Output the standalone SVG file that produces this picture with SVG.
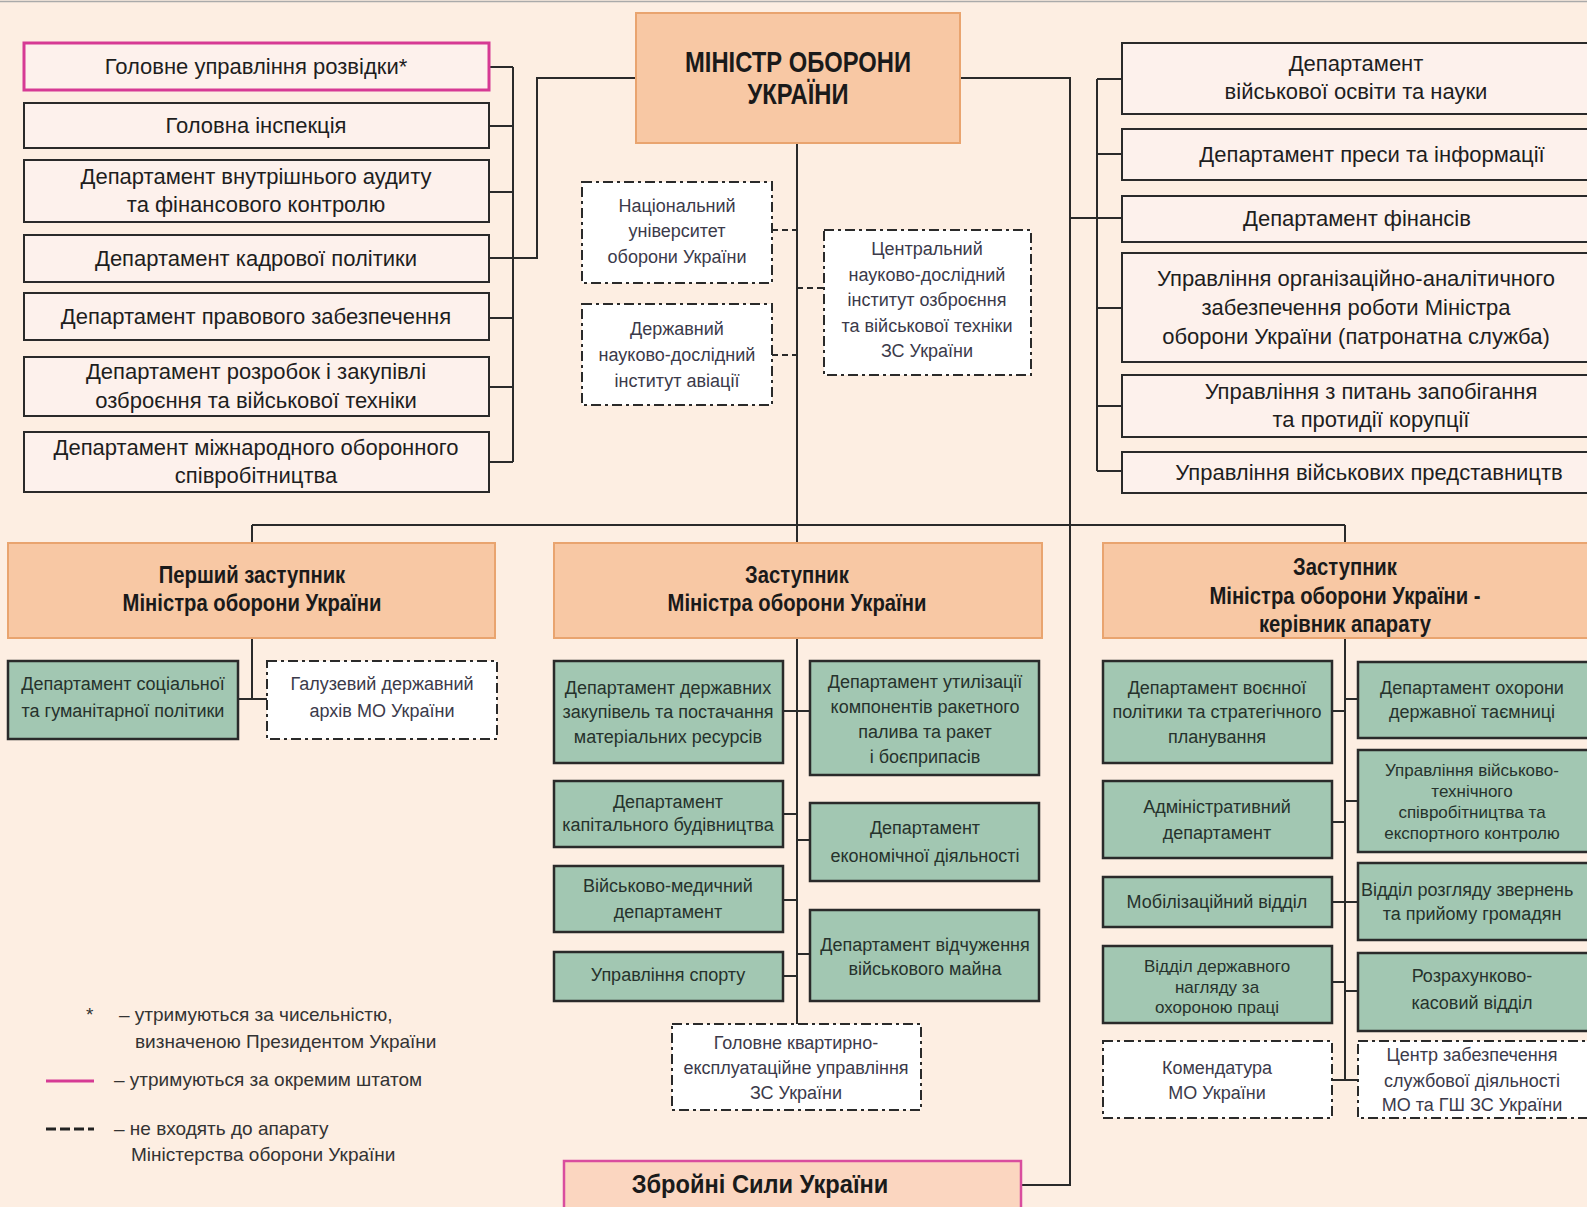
<svg xmlns="http://www.w3.org/2000/svg" width="1587" height="1207" viewBox="0 0 1587 1207">
<style>
.bg{fill:#fdeee2}
.w{fill:#fdf1ec;stroke:#2a2a2a;stroke-width:2}
.pk{fill:#fdf1ec;stroke:#d63a94;stroke-width:3}
.or{fill:#f8c8a4;stroke:#e9a46f;stroke-width:2}
.gr{fill:#a2c7b2;stroke:#2a2a2a;stroke-width:2.5}
.ds{fill:#ffffff;stroke:#2a2a2a;stroke-width:2;stroke-dasharray:10 4 3 4}
.zs{fill:#fbd6c0;stroke:#d94d9e;stroke-width:2.5}
.ln{stroke:#2a2a2a;stroke-width:2;fill:none}
.dl{stroke:#2a2a2a;stroke-width:2;fill:none;stroke-dasharray:6 4}
text{font-family:"Liberation Sans",Arial,sans-serif;text-anchor:middle}
.t{font-size:22px;fill:#1e1e1e}
.g{font-size:18px;fill:#26322c}
.gs{font-size:17px;fill:#26322c}
.d{font-size:18px;fill:#3b3a4a}
.h{font-weight:bold;fill:#1a1a1a}
.lg{font-size:19px;fill:#333;text-anchor:start}
</style>
<rect class="bg" x="0" y="0" width="1587" height="1207"/>
<line x1="0" y1="1.5" x2="1587" y2="1.5" stroke="#aaa" stroke-width="1.5"/>

<g id="connectors">
<path class="ln" d="M489 67H513M489 126H513M489 192H513M489 258H513M489 318H513M489 387H513M489 462H513M513 67V462M513 258H537V78H636"/>
<path class="ln" d="M960 78H1070V1185H1021M1070 218H1097M1097 79V471M1097 79H1122M1097 154H1122M1097 218H1122M1097 308H1122M1097 406H1122M1097 471H1122"/>
<path class="ln" d="M797 143V543M252 525H1345M252 525V543M1345 525V543"/>
<path class="dl" d="M772 230H797M772 355H797M797 288H824"/>
<path class="ln" d="M252 638V699M238 699H267"/>
<path class="ln" d="M797 638V1024M783 711H810M783 814H797M783 900H797M783 976H797M797 840H810M797 954H810"/>
<path class="ln" d="M1345 638V1080M1332 711H1345M1332 822H1345M1332 902H1358M1332 982H1345M1332 1080H1358M1345 699H1358M1345 801H1358M1345 991H1358"/>
</g>

<g id="minister">
<rect class="or" x="636" y="13" width="324" height="130"/>
<text class="h" font-size="29" transform="translate(798,72) scale(0.82,1)">МІНІСТР ОБОРОНИ</text>
<text class="h" font-size="29" transform="translate(798,104) scale(0.82,1)">УКРАЇНИ</text>
</g>

<g id="gur"><rect class="pk" x="24" y="43" width="465" height="47"/><text class="t" x="256" y="74">Головне управління розвідки*</text></g>
<g id="insp"><rect class="w" x="24" y="103" width="465" height="45"/><text class="t" x="256" y="133">Головна інспекція</text></g>
<g id="audit"><rect class="w" x="24" y="160" width="465" height="62"/><text class="t" x="256" y="184">Департамент внутрішнього аудиту</text><text class="t" x="256" y="212">та фінансового контролю</text></g>
<g id="kadry"><rect class="w" x="24" y="235" width="465" height="47"/><text class="t" x="256" y="266">Департамент кадрової політики</text></g>
<g id="pravo"><rect class="w" x="24" y="293" width="465" height="47"/><text class="t" x="256" y="324">Департамент правового забезпечення</text></g>
<g id="rozrob"><rect class="w" x="24" y="357" width="465" height="59"/><text class="t" x="256" y="379">Департамент розробок і закупівлі</text><text class="t" x="256" y="408">озброєння та військової техніки</text></g>
<g id="mizhnar"><rect class="w" x="24" y="432" width="465" height="60"/><text class="t" x="256" y="455">Департамент міжнародного оборонного</text><text class="t" x="256" y="483">співробітництва</text></g>

<g id="osvita"><rect class="w" x="1122" y="43" width="480" height="71"/><text class="t" x="1356" y="71">Департамент</text><text class="t" x="1356" y="99">військової освіти та науки</text></g>
<g id="presa"><rect class="w" x="1122" y="129" width="480" height="51"/><text class="t" x="1372" y="162">Департамент преси та інформації</text></g>
<g id="finansy"><rect class="w" x="1122" y="196" width="480" height="46"/><text class="t" x="1357" y="226">Департамент фінансів</text></g>
<g id="patronat"><rect class="w" x="1122" y="253" width="480" height="109"/><text class="t" x="1356" y="286">Управління організаційно-аналітичного</text><text class="t" x="1356" y="315">забезпечення роботи Міністра</text><text class="t" x="1356" y="344">оборони України (патронатна служба)</text></g>
<g id="koruptsia"><rect class="w" x="1122" y="375" width="480" height="62"/><text class="t" x="1371" y="399">Управління з питань запобігання</text><text class="t" x="1371" y="427">та протидії корупції</text></g>
<g id="predst"><rect class="w" x="1122" y="452" width="480" height="41"/><text class="t" x="1369" y="480">Управління військових представництв</text></g>

<g id="nuou"><rect class="ds" x="582" y="182" width="190" height="101"/><text class="d" x="677" y="212">Національний</text><text class="d" x="677" y="237">університет</text><text class="d" x="677" y="263">оборони України</text></g>
<g id="dndia"><rect class="ds" x="582" y="304" width="190" height="101"/><text class="d" x="677" y="335">Державний</text><text class="d" x="677" y="361">науково-дослідний</text><text class="d" x="677" y="387">інститут авіації</text></g>
<g id="cndi"><rect class="ds" x="824" y="230" width="207" height="145"/><text class="d" x="927" y="255">Центральний</text><text class="d" x="927" y="281">науково-дослідний</text><text class="d" x="927" y="306">інститут озброєння</text><text class="d" x="927" y="332">та військової техніки</text><text class="d" x="927" y="357">ЗС України</text></g>

<g id="dep1"><rect class="or" x="8" y="543" width="487" height="95"/><text class="h" font-size="23" transform="translate(252,583) scale(0.88,1)">Перший заступник</text><text class="h" font-size="23" transform="translate(252,611) scale(0.88,1)">Міністра оборони України</text></g>
<g id="dep2"><rect class="or" x="554" y="543" width="488" height="95"/><text class="h" font-size="23" transform="translate(797,583) scale(0.88,1)">Заступник</text><text class="h" font-size="23" transform="translate(797,611) scale(0.88,1)">Міністра оборони України</text></g>
<g id="dep3"><rect class="or" x="1103" y="543" width="490" height="95"/><text class="h" font-size="23" transform="translate(1345,575) scale(0.88,1)">Заступник</text><text class="h" font-size="23" transform="translate(1345,604) scale(0.88,1)">Міністра оборони України -</text><text class="h" font-size="23" transform="translate(1345,632) scale(0.88,1)">керівник апарату</text></g>

<g id="social"><rect class="gr" x="8" y="661" width="230" height="78"/><text class="g" x="123" y="690">Департамент соціальної</text><text class="g" x="123" y="717">та гуманітарної політики</text></g>
<g id="arkhiv"><rect class="ds" x="267" y="661" width="230" height="78"/><text class="d" x="382" y="690">Галузевий державний</text><text class="d" x="382" y="717">архів МО України</text></g>

<g id="zakup"><rect class="gr" x="554" y="661" width="229" height="102"/><text class="g" x="668" y="694">Департамент державних</text><text class="g" x="668" y="718">закупівель та постачання</text><text class="g" x="668" y="743">матеріальних ресурсів</text></g>
<g id="kapbud"><rect class="gr" x="554" y="781" width="229" height="66"/><text class="g" x="668" y="808">Департамент</text><text class="g" x="668" y="831">капітального будівництва</text></g>
<g id="medych"><rect class="gr" x="554" y="866" width="229" height="66"/><text class="g" x="668" y="892">Військово-медичний</text><text class="g" x="668" y="918">департамент</text></g>
<g id="sport"><rect class="gr" x="554" y="952" width="229" height="49"/><text class="g" x="668" y="981">Управління спорту</text></g>
<g id="utyl"><rect class="gr" x="810" y="661" width="229" height="114"/><text class="g" x="925" y="688">Департамент утилізації</text><text class="g" x="925" y="713">компонентів ракетного</text><text class="g" x="925" y="738">палива та ракет</text><text class="g" x="925" y="763">і боєприпасів</text></g>
<g id="ekon"><rect class="gr" x="810" y="803" width="229" height="78"/><text class="g" x="925" y="834">Департамент</text><text class="g" x="925" y="862">економічної діяльності</text></g>
<g id="vidch"><rect class="gr" x="810" y="910" width="229" height="91"/><text class="g" x="925" y="951">Департамент відчуження</text><text class="g" x="925" y="975">військового майна</text></g>
<g id="gkeu"><rect class="ds" x="672" y="1024" width="249" height="86"/><text class="d" x="796" y="1049">Головне квартирно-</text><text class="d" x="796" y="1074">експлуатаційне управління</text><text class="d" x="796" y="1099">ЗС України</text></g>

<g id="voen"><rect class="gr" x="1103" y="661" width="229" height="102"/><text class="g" x="1217" y="694">Департамент воєнної</text><text class="g" x="1217" y="718">політики та стратегічного</text><text class="g" x="1217" y="743">планування</text></g>
<g id="admin"><rect class="gr" x="1103" y="781" width="229" height="77"/><text class="g" x="1217" y="813">Адміністративний</text><text class="g" x="1217" y="839">департамент</text></g>
<g id="mob"><rect class="gr" x="1103" y="877" width="229" height="50"/><text class="g" x="1217" y="908">Мобілізаційний відділ</text></g>
<g id="nahliad"><rect class="gr" x="1103" y="946" width="229" height="77"/><text class="gs" x="1217" y="972">Відділ державного</text><text class="gs" x="1217" y="993">нагляду за</text><text class="gs" x="1217" y="1013">охороною праці</text></g>
<g id="komend"><rect class="ds" x="1103" y="1041" width="229" height="77"/><text class="d" x="1217" y="1074">Комендатура</text><text class="d" x="1217" y="1099">МО України</text></g>
<g id="taemn"><rect class="gr" x="1358" y="662" width="234" height="76"/><text class="g" x="1472" y="694">Департамент охорони</text><text class="g" x="1472" y="718">державної таємниці</text></g>
<g id="vts"><rect class="gr" x="1358" y="750" width="234" height="102"/><text class="gs" x="1472" y="776">Управління військово-</text><text class="gs" x="1472" y="797">технічного</text><text class="gs" x="1472" y="818">співробітництва та</text><text class="gs" x="1472" y="839">експортного контролю</text></g>
<g id="zvern"><rect class="gr" x="1358" y="863" width="234" height="77"/><text class="g" x="1361" y="896" style="text-anchor:start">Відділ розгляду звернень</text><text class="g" x="1472" y="920">та прийому громадян</text></g>
<g id="kasa"><rect class="gr" x="1358" y="953" width="234" height="78"/><text class="g" x="1472" y="982">Розрахунково-</text><text class="g" x="1472" y="1009">касовий відділ</text></g>
<g id="tsentr"><rect class="ds" x="1358" y="1041" width="234" height="77"/><text class="d" x="1472" y="1061">Центр забезпечення</text><text class="d" x="1472" y="1087">службової діяльності</text><text class="d" x="1472" y="1111">МО та ГШ ЗС України</text></g>

<g id="zsu"><rect class="zs" x="564" y="1161" width="457" height="60"/><text class="h" font-size="26" transform="translate(760,1193) scale(0.91,1)">Збройні Сили України</text></g>

<g id="legend">
<text class="lg" x="86" y="1021">*</text>
<text class="lg" x="119" y="1021">– утримуються за чисельністю,</text>
<text class="lg" x="135" y="1048">визначеною Президентом України</text>
<line x1="46" y1="1081" x2="94" y2="1081" stroke="#d63a94" stroke-width="3"/>
<text class="lg" x="114" y="1086">– утримуються за окремим штатом</text>
<line x1="46" y1="1129" x2="94" y2="1129" stroke="#222" stroke-width="3" stroke-dasharray="10 4"/>
<text class="lg" x="114" y="1135">– не входять до апарату</text>
<text class="lg" x="131" y="1161">Міністерства оборони України</text>
</g>
</svg>
